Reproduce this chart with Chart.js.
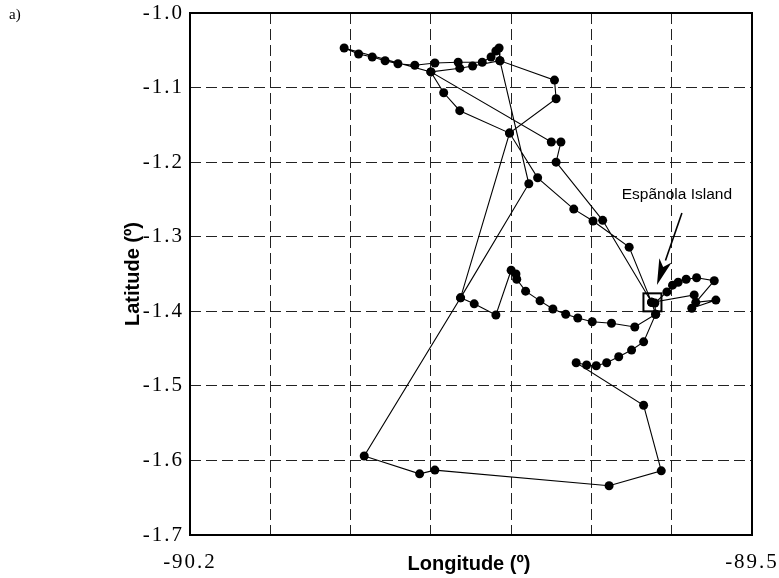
<!DOCTYPE html>
<html><head><meta charset="utf-8">
<script src="https://cdn.jsdelivr.net/npm/chart.js@4.4.0/dist/chart.umd.min.js"></script>
<style>html,body{margin:0;padding:0;background:#fff;}#wrap{position:relative;width:779px;height:578px;}</style>
</head><body><div id="wrap"><canvas id="c" width="779" height="578"></canvas></div>
<script>
// Track positions (in visiting order)
const longitudes = [
  -89.625, -89.653, -89.698, -89.722, -89.767, -89.802, -89.864, -89.884, -89.900, -90.008,
  -89.990, -89.973, -89.957, -89.941, -89.920, -89.895, -89.866, -89.836, -89.825, -89.819,
  -89.815, -89.814, -89.746, -89.744, -89.802, -89.863, -89.983, -89.914, -89.895, -89.678,
  -89.613, -89.635, -89.719, -89.706, -89.694, -89.681, -89.666, -89.650, -89.635, -89.620,
  -89.621, -89.606, -89.599, -89.592, -89.582, -89.569, -89.547, -89.570, -89.545, -89.575,
  -89.572, -89.625, -89.620, -89.646, -89.675, -89.699, -89.717, -89.732, -89.748, -89.764,
  -89.782, -89.793, -89.794, -89.800, -89.819, -89.846, -89.863, -89.778, -89.814, -89.848,
  -89.864, -89.900, -89.750, -89.738, -89.744, -89.686, -89.625
];
const latitudes = [
  -1.388, -1.314, -1.279, -1.263, -1.221, -1.161, -1.131, -1.107, -1.079, -1.047,
  -1.055, -1.059, -1.064, -1.068, -1.070, -1.067, -1.066, -1.066, -1.059, -1.051,
  -1.047, -1.064, -1.090, -1.115, -1.161, -1.382, -1.594, -1.618, -1.613, -1.634,
  -1.614, -1.526, -1.469, -1.472, -1.473, -1.469, -1.461, -1.452, -1.441, -1.404,
  -1.389, -1.374, -1.365, -1.361, -1.357, -1.355, -1.359, -1.388, -1.385, -1.396,
  -1.378, -1.388, -1.404, -1.421, -1.416, -1.414, -1.409, -1.404, -1.397, -1.386,
  -1.373, -1.357, -1.350, -1.345, -1.405, -1.390, -1.382, -1.229, -1.064, -1.071,
  -1.074, -1.079, -1.173, -1.173, -1.200, -1.278, -1.388
];
const xTickValues = [-90.2, -90.1, -90.0, -89.9, -89.8, -89.7, -89.6, -89.5];
const xTickLabels = ['-90.2', '', '', '', '', '', '', '-89.5'];
const yTickValues = [-1.7, -1.6, -1.5, -1.4, -1.3, -1.2, -1.1, -1.0];
const yTickLabels = ['-1.7', '-1.6', '-1.5', '-1.4', '-1.3', '-1.2', '-1.1', '-1.0'];
const xTitle = 'Longitude (º)';
const yTitle = 'Latitude (º)';
const panelLabel = 'a)';
const islandName = 'Espãnola Island';
const islandPos = [-89.624, -1.388];
const islandLabelPos = [-89.5935, -1.2441];
const arrowStart = [-89.5873, -1.2682];
const arrowTip = [-89.6184, -1.3648];

const decor = {
  id: 'decor',
  beforeDraw(chart) { chart.ctx.letterSpacing = '2px'; },
  beforeDatasetsDraw(chart) { chart.ctx.letterSpacing = '0px'; },
  afterDraw(chart) {
    const ctx = chart.ctx, a = chart.chartArea, xs = chart.scales.x, ys = chart.scales.y;
    ctx.save();
    ctx.letterSpacing = '0px';
    // frame
    ctx.strokeStyle = '#000'; ctx.lineWidth = 2;
    ctx.strokeRect(a.left, a.top, a.right - a.left, a.bottom - a.top);
    // titles
    ctx.fillStyle = '#000';
    ctx.font = 'bold 20px "Liberation Sans", Arial, sans-serif';
    ctx.textAlign = 'center'; ctx.textBaseline = 'middle';
    ctx.fillText(xTitle, (a.left + a.right) / 2 - 2, a.bottom + 29);
    ctx.save();
    ctx.translate(a.left - 57, (a.top + a.bottom) / 2);
    ctx.rotate(-Math.PI / 2);
    ctx.fillText(yTitle, 0, 0);
    ctx.restore();
    // panel label
    ctx.font = '15px "Liberation Serif", "Times New Roman", serif';
    ctx.textAlign = 'left'; ctx.textBaseline = 'top';
    ctx.fillText(panelLabel, 9, 8);
    // island label
    ctx.font = '15.5px "Liberation Sans", Arial, sans-serif';
    ctx.textAlign = 'center'; ctx.textBaseline = 'middle';
    ctx.fillText(islandName, xs.getPixelForValue(islandLabelPos[0]), ys.getPixelForValue(islandLabelPos[1]));
    // island box
    const ix = xs.getPixelForValue(islandPos[0]), iy = ys.getPixelForValue(islandPos[1]);
    ctx.lineWidth = 2;
    ctx.strokeRect(ix - 9, iy - 9, 18, 18);
    // arrow
    const x0 = xs.getPixelForValue(arrowStart[0]), y0 = ys.getPixelForValue(arrowStart[1]);
    const x1 = xs.getPixelForValue(arrowTip[0]), y1 = ys.getPixelForValue(arrowTip[1]);
    const ang = Math.atan2(y1 - y0, x1 - x0), L = 26, W = 6.5;
    const bx = x1 - L * Math.cos(ang), by = y1 - L * Math.sin(ang);
    ctx.lineWidth = 1.6;
    ctx.beginPath(); ctx.moveTo(x0, y0); ctx.lineTo(bx, by); ctx.stroke();
    ctx.beginPath();
    ctx.moveTo(x1, y1);
    ctx.lineTo(bx + W * Math.sin(ang), by - W * Math.cos(ang));
    ctx.lineTo(x1 - (L - 7) * Math.cos(ang), y1 - (L - 7) * Math.sin(ang));
    ctx.lineTo(bx - W * Math.sin(ang), by + W * Math.cos(ang));
    ctx.closePath(); ctx.fill();
    ctx.restore();
  }
};

const tickFont = { family: '"Liberation Serif", "Times New Roman", serif', size: 21 };
const noPad = s => { s.paddingLeft = 0; s.paddingRight = 0; s.paddingTop = 0; s.paddingBottom = 0; };

new Chart(document.getElementById('c'), {
  type: 'scatter',
  data: {
    datasets: [{
      data: longitudes.map((x, i) => ({ x: x, y: latitudes[i] })),
      showLine: true,
      borderColor: '#000',
      borderWidth: 1.1,
      pointRadius: 4.5,
      pointHoverRadius: 4.5,
      pointBackgroundColor: '#000',
      pointBorderWidth: 0,
      tension: 0
    }]
  },
  options: {
    responsive: false,
    animation: false,
    events: [],
    layout: { padding: { left: 0, top: 13, right: 27, bottom: 0 } },
    plugins: { legend: { display: false }, tooltip: { enabled: false } },
    scales: {
      x: {
        type: 'linear', min: -90.2, max: -89.5,
        afterBuildTicks: s => { s.ticks = xTickValues.map(v => ({ value: v })); },
        afterFit: s => { s.height = 43; noPad(s); },
        ticks: { autoSkip: false, maxRotation: 0, padding: 15, color: '#000', font: tickFont,
          callback: (v, i) => xTickLabels[i] },
        grid: { color: '#222', lineWidth: 1, drawTicks: false },
        border: { display: false, dash: [11, 5] }
      },
      y: {
        type: 'linear', min: -1.7, max: -1.0,
        afterBuildTicks: s => { s.ticks = yTickValues.map(v => ({ value: v })); },
        afterFit: s => { s.width = 190; noPad(s); },
        ticks: { autoSkip: false, padding: 6, color: '#000', font: tickFont,
          callback: (v, i) => yTickLabels[i] },
        grid: { color: '#222', lineWidth: 1, drawTicks: false },
        border: { display: false, dash: [11, 5] }
      }
    }
  },
  plugins: [decor]
});
</script></body></html>
